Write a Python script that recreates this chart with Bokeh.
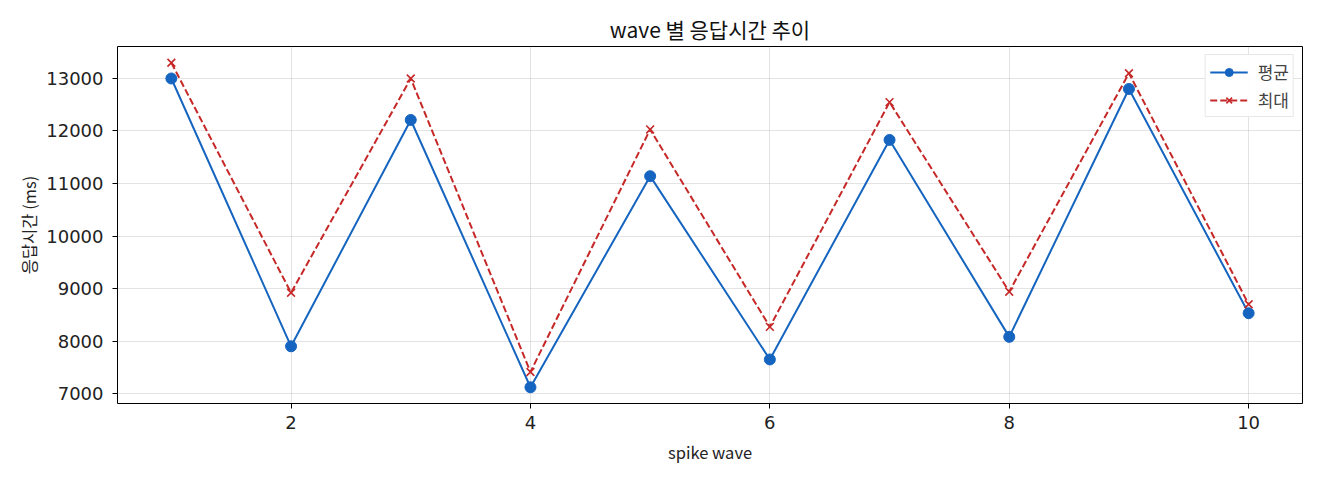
from bokeh.plotting import figure
from bokeh.models import Range1d, FixedTicker, Legend, LegendItem
from bokeh.embed import file_html
from bokeh.resources import INLINE

waves = [1, 2, 3, 4, 5, 6, 7, 8, 9, 10]
avg_ms = [13000, 7900, 12210, 7120, 11140, 7650, 11830, 8080, 12800, 8530]
max_ms = [13300, 8920, 13000, 7410, 12030, 8270, 12550, 8940, 13100, 8700]
x_ticks = [2, 4, 6, 8, 10]
y_ticks = [7000, 8000, 9000, 10000, 11000, 12000, 13000]

FONT = "Noto Sans CJK KR"
TICK_FONT = "DejaVu Sans"
BLUE = "#1565C0"
RED = "#C62828"

p = figure(width=1312, height=472, output_backend="svg", toolbar_location=None,
           x_range=Range1d(0.55, 10.45), y_range=Range1d(6811, 13609),
           min_border_left=117, min_border_right=10, min_border_top=46, min_border_bottom=69)

p.title.text = "wave 별 응답시간 추이"
p.title.align = "center"
p.title.text_font = FONT
p.title.text_font_size = "21px"
p.title.text_font_style = "normal"
p.title.text_color = "#111111"
p.title.standoff = 5

l1 = p.line(waves, avg_ms, line_color=BLUE, line_width=2)
s1 = p.scatter(waves, avg_ms, marker="circle", size=11, fill_color=BLUE, line_color=BLUE)
l2 = p.line(waves, max_ms, line_color=RED, line_width=2, line_dash="7 3")
s2 = p.scatter(waves, max_ms, marker="x", size=11, line_color=RED, line_width=1.6)

legend = Legend(items=[LegendItem(label="평균", renderers=[l1, s1]),
                       LegendItem(label="최대", renderers=[l2, s2])],
                location="top_right")
legend.label_text_font = FONT
legend.label_text_font_size = "17px"
legend.border_line_color = "#d0d0d0"
legend.border_line_width = 1
legend.background_fill_alpha = 0.9
legend.glyph_width = 38
legend.glyph_height = 20
legend.label_height = 20
legend.spacing = 3
legend.padding = 4
legend.margin = 8
legend.label_standoff = 10
p.add_layout(legend)

p.xaxis.ticker = FixedTicker(ticks=x_ticks)
p.yaxis.ticker = FixedTicker(ticks=y_ticks)
p.xaxis.axis_label = "spike wave"
p.yaxis.axis_label = "응답시간 (ms)"
for ax in (p.xaxis, p.yaxis):
    ax.axis_label_text_font = FONT
    ax.axis_label_text_font_size = "16.5px"
    ax.axis_label_text_font_style = "normal"
    ax.axis_label_text_color = "#222222"
    ax.major_label_text_font = TICK_FONT
    ax.major_label_text_font_size = "18px"
    ax.major_label_text_color = "#222222"
    ax.minor_tick_line_color = None
    ax.major_tick_in = 0
    ax.major_tick_out = 5
    ax.major_label_standoff = 7
    ax.axis_line_color = None
    ax.major_tick_line_color = "#000000"
p.yaxis.major_label_standoff = 9
p.yaxis.axis_label_standoff = 2
p.xaxis.axis_label_standoff = 8

p.outline_line_color = "#000000"
p.outline_line_width = 1
p.outline_line_alpha = 1
p.grid.grid_line_color = "#b0b0b0"
p.grid.grid_line_alpha = 0.35

open("out.html", "w").write(file_html(p, INLINE))
